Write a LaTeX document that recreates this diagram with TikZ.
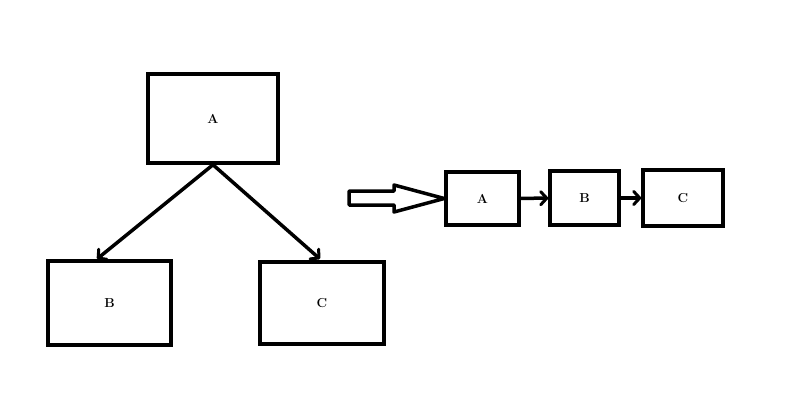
\documentclass[tikz,border=0pt]{standalone}
\usetikzlibrary{arrows.meta}

\begin{document}
\begin{tikzpicture}[x=1pt,y=-1pt,
    box/.style={draw,line width=3.5pt,inner sep=0pt,font=\fontsize{13}{15}\selectfont\bfseries},
    link/.style={line width=3.5pt,-{Straight Barb[length=6pt,width=13pt,line width=3pt,round]}}]
    \useasboundingbox (0,0) rectangle (785,415);
    % tree
    \node[box,minimum width=130pt,minimum height=89pt] (tA) at (213,118.5) {A};
    \node[box,minimum width=123pt,minimum height=84pt] (tB) at (109.5,303) {B};
    \node[box,minimum width=124pt,minimum height=82pt] (tC) at (322,303) {C};
    \draw[link] (tA.south) -- (97,259);
    \draw[link] (tA.south) -- (320,259);
    % list
    \node[box,minimum width=73pt,minimum height=53pt] (lA) at (482.5,198.5) {A};
    \node[box,minimum width=69pt,minimum height=54pt] (lB) at (584.5,198) {B};
    \node[box,minimum width=80pt,minimum height=56pt] (lC) at (683,198) {C};
    \draw[link] (lA) -- (lB);
    \draw[link] (lB) -- (lC);
    % big arrow
    \draw[line width=3.5pt,line join=round] (349,191) -- (394,191) -- (394,185) -- (lA.west) -- (394,212) -- (394,205) -- (349,205) -- cycle;
\end{tikzpicture}
\end{document}
